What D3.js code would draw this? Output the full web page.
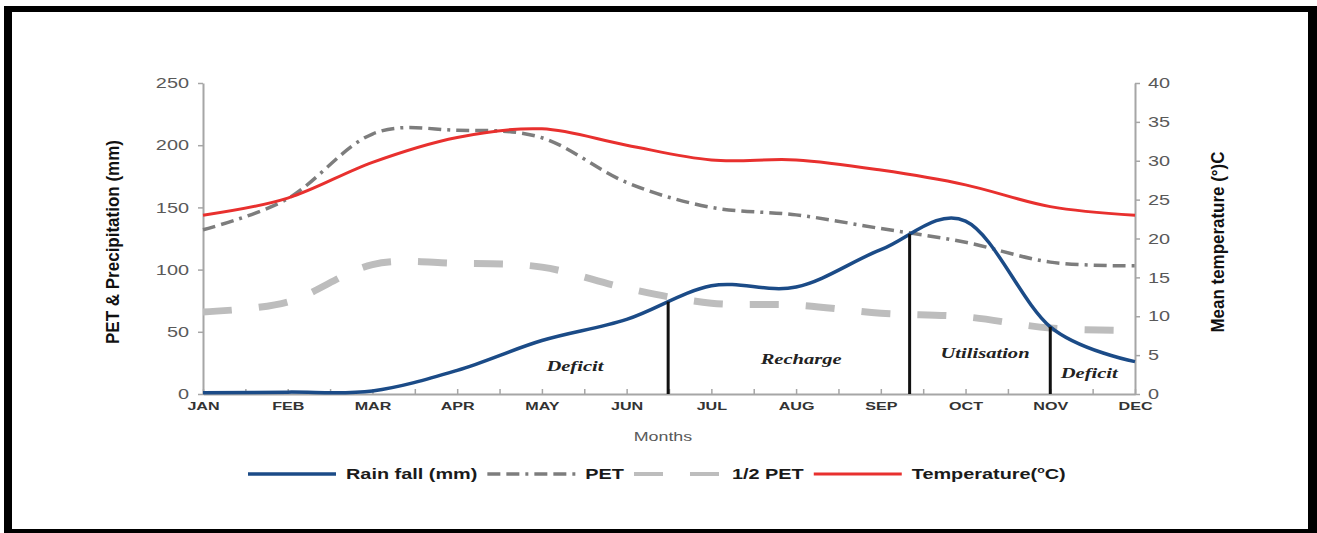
<!DOCTYPE html>
<html>
<head>
<meta charset="utf-8">
<script src="https://cdn.jsdelivr.net/npm/d3@7"></script>
<style>
  html, body { margin: 0; padding: 0; background: #fff; }
  svg { display: block; }
</style>
</head>
<body>
<svg id="chart" width="1317" height="533"></svg>
<script>
// Monthly water balance: rainfall, PET, half PET and mean temperature
const months = ["JAN", "FEB", "MAR", "APR", "MAY", "JUN", "JUL", "AUG", "SEP", "OCT", "NOV", "DEC"];
const rainfall = [1, 1.5, 2.5, 19, 43, 60, 87, 86, 116, 139, 54, 26];
const pet = [132, 157, 209, 212, 206, 170, 150, 144, 133, 122, 106, 103];
const halfPet = [66, 74, 104, 105, 102, 85, 73, 71.5, 65, 62, 53, 51];
const temperature = [23.0, 25.2, 29.8, 33.0, 34.1, 32.0, 30.1, 30.1, 28.8, 26.9, 24.1, 23.0];
const leftTicks = [0, 50, 100, 150, 200, 250];
const rightTicks = [0, 5, 10, 15, 20, 25, 30, 35, 40];

// Phase boundaries (fractional month index) and phase labels
const boundaryMonths = [5.49, 8.34, 10.0];
const phaseNames = ["Deficit", "Recharge", "Utilisation", "Deficit"];
const phaseMonths = [4.39, 7.06, 9.23, 10.46];
const phaseMm = [18.5, 24, 29, 13];

const legendNames = ["Rain fall (mm)", "PET", "1/2 PET", "Temperature"];

const svg = d3.select("#chart");
const W = 1317, H = 533;
const STRETCH = 1.37;

// frame
svg.append("rect").attr("x", 0).attr("y", 0).attr("width", W).attr("height", H).attr("fill", "#fff");
svg.append("rect").attr("x", 4).attr("y", 6).attr("width", W - 4).attr("height", H - 6).attr("fill", "#000");
svg.append("rect").attr("x", 12).attr("y", 12).attr("width", 1296).attr("height", 517).attr("fill", "#fff");

const plot = { left: 203, right: 1135, top: 83, bottom: 394 };

const x = d3.scaleLinear().domain([0, 11]).range([plot.left, plot.right]);
const yL = d3.scaleLinear().domain([0, 250]).range([plot.bottom, plot.top]);
const yR = d3.scaleLinear().domain([0, 40]).range([plot.bottom, plot.top]);

function stretch(sel, f) {
  sel.each(function () {
    const w = this.getComputedTextLength();
    if (w > 0) d3.select(this).attr("textLength", w * f).attr("lengthAdjust", "spacingAndGlyphs");
  });
}

const axisColor = "#a6a6a6";
function styleAxis(g) {
  g.select(".domain").attr("stroke", axisColor).attr("stroke-width", 2);
  g.selectAll(".tick line").attr("stroke", axisColor).attr("stroke-width", 1.5);
}

// left axis
const gL = svg.append("g").attr("transform", `translate(${plot.left},0)`)
  .call(d3.axisLeft(yL).tickValues(leftTicks).tickSize(5).tickSizeOuter(0).tickPadding(9));
styleAxis(gL);
gL.selectAll("text").attr("font-family", "Liberation Sans, Arial, sans-serif")
  .attr("font-size", 14.5).attr("fill", "#595959");
stretch(gL.selectAll("text"), STRETCH);

// right axis
const gR = svg.append("g").attr("transform", `translate(${plot.right},0)`)
  .call(d3.axisRight(yR).tickValues(rightTicks).tickSize(5).tickSizeOuter(0).tickPadding(8));
styleAxis(gR);
gR.selectAll("text").attr("font-family", "Liberation Sans, Arial, sans-serif")
  .attr("font-size", 14.5).attr("fill", "#595959");
stretch(gR.selectAll("text"), STRETCH);

// bottom axis: month labels with half-month ticks pointing inward
const gX = svg.append("g").attr("transform", `translate(0,${plot.bottom})`)
  .call(d3.axisBottom(x).tickValues(d3.range(0, 11.01, 0.5)).tickSize(-5).tickSizeOuter(0).tickPadding(8)
    .tickFormat(d => Number.isInteger(d) ? months[d] : ""));
styleAxis(gX);
gX.selectAll("text").attr("font-family", "Liberation Sans, Arial, sans-serif")
  .attr("font-size", 11.5).attr("font-weight", "bold").attr("fill", "#333");
stretch(gX.selectAll("text"), 1.4);

// axis titles
svg.append("text")
  .attr("transform", `translate(113,242) rotate(-90)`)
  .attr("text-anchor", "middle").attr("dy", "0.35em")
  .attr("font-family", "Liberation Sans, Arial, sans-serif")
  .attr("font-size", 18).attr("font-weight", "bold").attr("fill", "#111")
  .attr("textLength", 204).attr("lengthAdjust", "spacingAndGlyphs")
  .text("PET & Precipitation (mm)");

svg.append("text")
  .attr("transform", `translate(1218,242) rotate(-90)`)
  .attr("text-anchor", "middle").attr("dy", "0.35em")
  .attr("font-family", "Liberation Sans, Arial, sans-serif")
  .attr("font-size", 18).attr("font-weight", "bold").attr("fill", "#111")
  .attr("textLength", 181).attr("lengthAdjust", "spacingAndGlyphs")
  .text("Mean temperature (°)C");

const monthsLabel = svg.append("text")
  .attr("x", 663).attr("y", 441).attr("text-anchor", "middle")
  .attr("font-family", "Liberation Sans, Arial, sans-serif")
  .attr("font-size", 13).attr("fill", "#595959")
  .text("Months");
stretch(monthsLabel, STRETCH);

// series
const curve = d3.curveCardinal.tension(0);
const lineL = d3.line().x((d, i) => x(i)).y(d => yL(d)).curve(curve);
const lineR = d3.line().x((d, i) => x(i)).y(d => yR(d)).curve(curve);

const styles = {
  rain: { color: "#1b4b87", width: 3.5, dash: null },
  pet: { color: "#7d7d7d", width: 3.5, dash: "13,6,13,6,3,6" },
  half: { color: "#bdbdbd", width: 7, dash: "29,27" },
  temp: { color: "#e8302e", width: 3, dash: null }
};

function drawSeries(data, gen, st) {
  return svg.append("path").datum(data)
    .attr("d", gen).attr("fill", "none")
    .attr("stroke", st.color).attr("stroke-width", st.width)
    .attr("stroke-dasharray", st.dash);
}

drawSeries(halfPet, lineL, styles.half);
drawSeries(pet, lineL, styles.pet);
drawSeries(temperature, lineR, styles.temp);
const rainPath = drawSeries(rainfall, lineL, styles.rain);

// y position on the rainfall curve for a given screen x
function yOnPath(node, px) {
  let lo = 0, hi = node.getTotalLength();
  for (let i = 0; i < 40; i++) {
    const mid = (lo + hi) / 2;
    if (node.getPointAtLength(mid).x < px) lo = mid; else hi = mid;
  }
  return node.getPointAtLength((lo + hi) / 2).y;
}

svg.selectAll("line.boundary").data(boundaryMonths).enter().append("line")
  .attr("class", "boundary")
  .attr("x1", d => x(d)).attr("x2", d => x(d))
  .attr("y1", yL(0)).attr("y2", d => yOnPath(rainPath.node(), x(d)))
  .attr("stroke", "#111").attr("stroke-width", 3);

const phases = svg.selectAll("text.phase").data(phaseNames).enter().append("text")
  .attr("class", "phase")
  .attr("x", (d, i) => x(phaseMonths[i])).attr("y", (d, i) => yL(phaseMm[i]))
  .attr("text-anchor", "middle")
  .attr("font-family", "Liberation Serif, Times New Roman, serif")
  .attr("font-size", 15).attr("font-style", "italic").attr("font-weight", "bold").attr("fill", "#222")
  .text(d => d);
stretch(phases, STRETCH);

// legend
const legendStyles = [styles.rain, styles.pet, styles.half, styles.temp];
const legend = svg.append("g");
let lx = 248;
const ly = 474;
legendNames.forEach((name, i) => {
  const st = legendStyles[i];
  legend.append("line")
    .attr("x1", lx).attr("x2", lx + 88).attr("y1", ly).attr("y2", ly)
    .attr("stroke", st.color)
    .attr("stroke-width", i === 2 ? 4 : st.width)
    .attr("stroke-dasharray", st.dash);
  const t = legend.append("text")
    .attr("x", lx + 98).attr("y", ly + 5)
    .attr("font-family", "Liberation Sans, Arial, sans-serif")
    .attr("font-size", 14.5).attr("font-weight", "bold").attr("fill", "#1a1a1a")
    .text(name);
  if (i === 3) {
    t.append("tspan").attr("font-size", 9).attr("dy", -6).text("o");
    t.append("tspan").attr("dy", 6).text("C)");
    t.node().firstChild.nodeValue = "Temperature(";
  }
  stretch(t, STRETCH);
  lx = lx + 98 + t.node().getComputedTextLength() + 10;
});
</script>
</body>
</html>
